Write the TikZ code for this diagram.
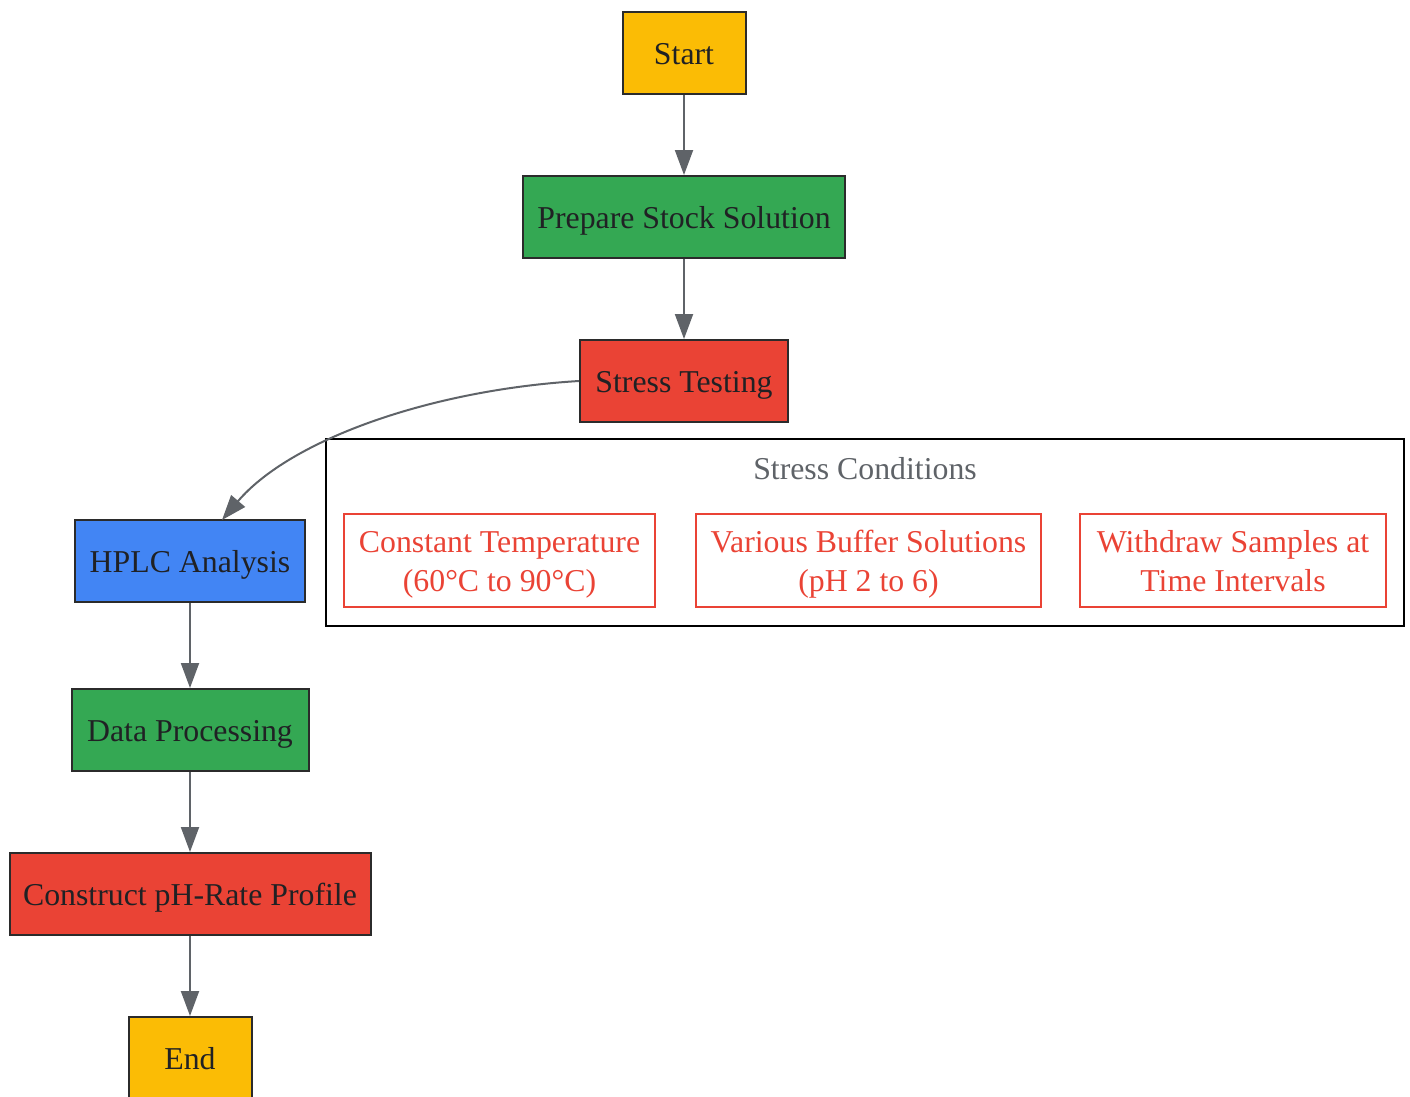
\documentclass[tikz,border=0pt]{standalone}
\usepackage{fontspec}
\setmainfont{Liberation Serif}
\usetikzlibrary{arrows.meta}
\definecolor{gyellow}{HTML}{FBBC05}
\definecolor{ggreen}{HTML}{34A853}
\definecolor{gred}{HTML}{EA4335}
\definecolor{gblue}{HTML}{4285F4}
\definecolor{gtext}{HTML}{202124}
\definecolor{ggray}{HTML}{5F6368}
\definecolor{gborder}{HTML}{2B2B2B}
\begin{document}
\begin{tikzpicture}[x=1pt,y=-1pt,
  every node/.style={font=\fontsize{31.8}{38.3}\selectfont, inner sep=0pt, align=center},
  proc/.style={draw=gborder, line width=2pt, text=gtext, minimum height=82pt, text height=25pt, text depth=3pt},
  cond/.style={draw=gred, line width=2pt, text=gred, minimum height=93pt, text height=64pt, text depth=3pt},
  flow/.style={draw=ggray, line width=2pt, -{Triangle[length=25pt,width=18pt]}}]
\useasboundingbox (0,0) rectangle (1410,1096);
% cluster
\node[draw=black, line width=2pt, minimum width=1078pt, minimum height=187pt] (clu) at (865,532.5) {};
\node[text=ggray, anchor=base] (clulabel) at (865,479) {Stress Conditions};
\node[cond, minimum width=311pt] (c1) at (499.5,560.5) {Constant Temperature\\(60°C to 90°C)};
\node[cond, minimum width=345pt] (c2) at (868.5,560.5) {Various Buffer Solutions\\(pH 2 to 6)};
\node[cond, minimum width=306pt] (c3) at (1233,560.5) {Withdraw Samples at\\Time Intervals};
% main flow
\node[proc, fill=gyellow, minimum width=123pt] (start) at (684,53) {Start};
\node[proc, fill=ggreen, minimum width=322pt] (prep) at (684,217) {Prepare Stock Solution};
\node[proc, fill=gred, minimum width=208pt] (stress) at (684,381) {Stress Testing};
\node[proc, fill=gblue, minimum width=230pt] (hplc) at (190,561) {HPLC Analysis};
\node[proc, fill=ggreen, minimum width=237pt] (data) at (190,730) {Data Processing};
\node[proc, fill=gred, minimum width=361pt] (constr) at (190,894) {Construct pH-Rate Profile};
\node[proc, fill=gyellow, minimum width=123pt] (endn) at (190,1058) {End};
\coordinate (hplctop) at (222,520);
\draw[flow] (start) -- (prep);
\draw[flow] (prep) -- (stress);
\draw[flow] (stress.west) .. controls (430,390) and (290,440) .. (hplctop);
\draw[flow] (hplc) -- (data);
\draw[flow] (data) -- (constr);
\draw[flow] (constr) -- (endn);
\end{tikzpicture}
\end{document}
